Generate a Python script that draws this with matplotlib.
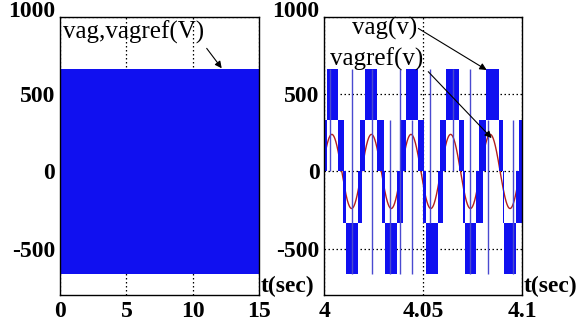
import matplotlib
matplotlib.use('Agg')
import matplotlib.pyplot as plt
import numpy as np

# ---------------- data ----------------
ylim = [-800, 1000]
yticks = [1000, 500, 0, -500]

# left panel: whole record, 0..15 s, envelope of vag
left_xlim = [0, 15]
left_xticks = [0, 5, 10, 15]
left_env_hi = 665
left_env_lo = -665

# right panel: zoom 4.0 .. 4.1 s
right_xlim = [4.0, 4.1]
right_xticks = [4.0, 4.05, 4.1]
right_xticklabels = ['4', '4.05', '4.1']

# voltage levels of the 5-level output
lvl_hi = 665
lvl_mid = 332

# edges of the dense-switching blocks (seconds after t = 4 s)
pos_block_start = [0.0012, 0.0205, 0.0413, 0.0614, 0.0817]
pos_block_end = [0.0068, 0.0268, 0.0472, 0.0680, 0.0880]
neg_block_start = [0.0110, 0.0308, 0.0513, 0.0710, 0.0910]
neg_block_end = [0.0170, 0.0368, 0.0574, 0.0768, 0.0970]
flank_after_pos = 0.0025
flank_before_neg = 0.0008
flank_after_neg = 0.0012
flank_before_pos = 0.0015

# isolated switching edges (thin lines)
thin_t = [4.0029, 4.0138, 4.0239, 4.0332, 4.0382, 4.0441, 4.0533, 4.0650, 4.0736, 4.0827, 4.0953]
thin_lo = [0, -665, -665, -665, -665, -665, -332, 0, -665, -665, -665]
thin_hi = [665, 665, 665, 332, 665, 332, 665, 665, 665, 332, 332]

# reference vagref
ref_amp = 240
ref_freq = 50
ref_t0 = 3.9988   # upward zero crossing

# ---------------- style ----------------
BLUE = '#1010f0'
THIN = '#4a4ad0'
RED = '#b02020'
SERIF = ['Liberation Serif', 'DejaVu Serif']
plt.rcParams['font.family'] = SERIF

fig = plt.figure(figsize=(5.87, 3.23), dpi=100)
axL = fig.add_axes([60 / 587, 28 / 323, 199.3 / 587, 278 / 323])
axR = fig.add_axes([324.3 / 587, 28 / 323, 198 / 587, 278 / 323])


def style_axis(ax, xlim, xticks, xticklabels):
    ax.set_xlim(*xlim)
    ax.set_ylim(*ylim)
    ax.set_xticks(xticks)
    ax.set_xticklabels(xticklabels)
    ax.set_yticks(yticks)
    ax.set_yticklabels([str(v) for v in yticks])
    ax.tick_params(length=0, labelsize=17)
    ax.tick_params(axis='y', pad=3.5)
    ax.tick_params(axis='x', pad=4.5)
    for lab in ax.get_xticklabels() + ax.get_yticklabels():
        lab.set_fontweight('bold')
    ax.get_yticklabels()[0].set_va('baseline')
    ax.grid(True, color='black', linestyle=(0, (1.2, 2.0)), linewidth=0.9)
    ax.set_axisbelow(True)
    for s in ax.spines.values():
        s.set_linewidth(1.0)
        s.set_color('black')
    ax.text(1.005, 0.03, 't(sec)', transform=ax.transAxes, fontsize=17,
            fontweight='bold', ha='left', va='center', clip_on=False)


# ---------------- left panel ----------------
style_axis(axL, left_xlim, left_xticks, [str(v) for v in left_xticks])
axL.fill_between(left_xlim, [left_env_lo] * 2, [left_env_hi] * 2,
                 color=BLUE, linewidth=0, zorder=2)
axL.text(5.57, 904, 'vag,vagref(V)', fontsize=18, ha='center', va='center')
axL.annotate('', xy=(12.17, 668), xytext=(11.04, 797),
             arrowprops=dict(arrowstyle='-|>', color='black', lw=0.8,
                             mutation_scale=10, shrinkA=0, shrinkB=0))

# ---------------- right panel ----------------
style_axis(axR, right_xlim, right_xticks, right_xticklabels)


def band(t0, t1, lo, hi):
    if t1 > t0:
        axR.fill_between([4 + t0, 4 + t1], [lo, lo], [hi, hi],
                         color=BLUE, linewidth=0, zorder=2)


n = len(pos_block_start)
prev_end = None
for i in range(n):
    a0, a1 = pos_block_start[i], pos_block_end[i]
    c0, c1 = neg_block_start[i], neg_block_end[i]
    if prev_end is None:
        band(0.0, a0, 0, lvl_mid)
    else:
        band(prev_end, prev_end + flank_after_neg, -lvl_mid, 0)
        band(prev_end + flank_after_neg, a0 - flank_before_pos, -lvl_mid, lvl_mid)
        band(a0 - flank_before_pos, a0, 0, lvl_mid)
    band(a0, a1, lvl_mid, lvl_hi)
    band(a1, a1 + flank_after_pos, 0, lvl_mid)
    band(a1 + flank_after_pos, c0 - flank_before_neg, -lvl_mid, lvl_mid)
    band(c0 - flank_before_neg, c0, -lvl_mid, 0)
    band(c0, c1, -lvl_hi, -lvl_mid)
    prev_end = c1
band(prev_end, prev_end + flank_after_neg, -lvl_mid, 0)
band(prev_end + flank_after_neg, 0.1, -lvl_mid, lvl_mid)

axR.vlines(thin_t, thin_lo, thin_hi, color=THIN, linewidth=1.0, zorder=2)

t_ref = np.linspace(right_xlim[0], right_xlim[1], 2000)
v_ref = ref_amp * np.sin(2 * np.pi * ref_freq * (t_ref - ref_t0))
axR.plot(t_ref, v_ref, color=RED, linewidth=1.0, zorder=1.5)

axR.text(4.0306, 926, 'vag(v)', fontsize=18, ha='center', va='center')
axR.text(4.0265, 728, 'vagref(v)', fontsize=18, ha='center', va='center')
arrow = dict(arrowstyle='-|>', color='black', lw=0.8, mutation_scale=10,
             shrinkA=0, shrinkB=0)
axR.annotate('', xy=(4.0820, 657), xytext=(4.0475, 926), arrowprops=arrow)
axR.annotate('', xy=(4.0845, 216), xytext=(4.0525, 646), arrowprops=arrow)

fig.savefig('out.png', dpi=100, facecolor='white')
